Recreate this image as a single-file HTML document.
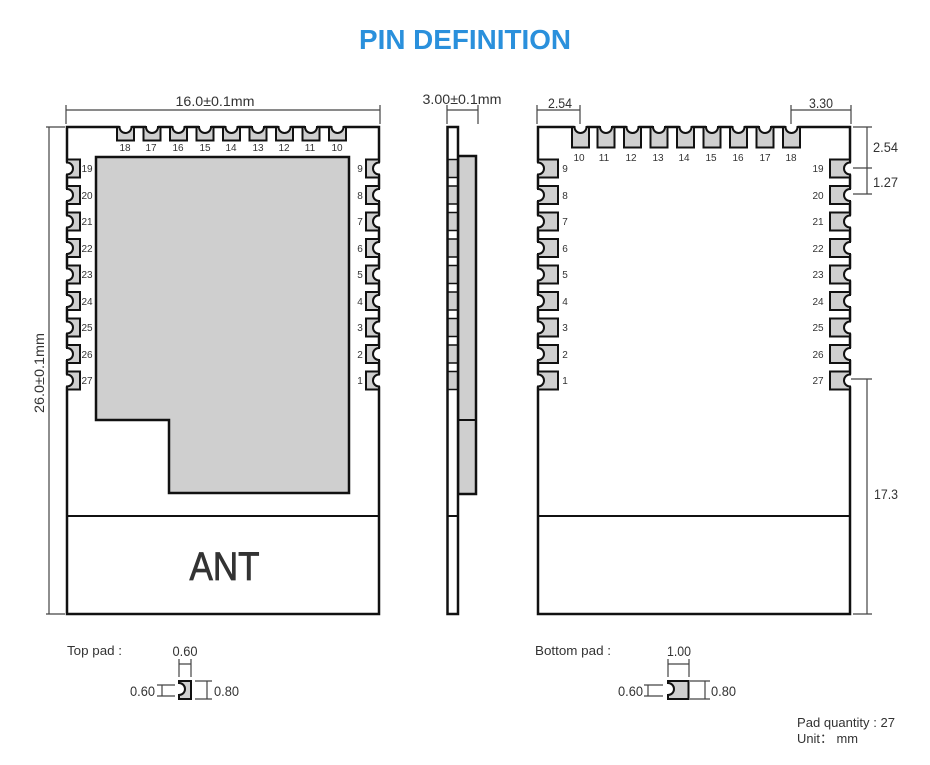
<!DOCTYPE html>
<html><head><meta charset="utf-8"><style>
html,body{margin:0;padding:0;background:#fff}
svg{display:block}
text{font-family:"Liberation Sans","Noto Sans CJK SC",sans-serif;fill:#333}
.d{font-size:14px}
.n{font-size:10px;text-anchor:middle}
.dim{stroke:#444;stroke-width:1.2;fill:none}
</style></head><body>
<svg width="930" height="765" viewBox="0 0 930 765" xmlns="http://www.w3.org/2000/svg">
<defs>
<g id="pt"><path d="M-6 0H6" stroke="#fff" stroke-width="4.500"/><path d="M-8.500 0V13.500H8.500V0H6A6 6 0 0 1-6 0Z" fill="#cfcfcf" stroke="#111" stroke-width="2"/></g>
<g id="pb"><path d="M-6 0H6" stroke="#fff" stroke-width="4.500"/><path d="M-8.500 0V20.500H8.500V0H6A6 6 0 0 1-6 0Z" fill="#cfcfcf" stroke="#111" stroke-width="2"/></g>
<g id="pl"><path d="M0 -6V6" stroke="#fff" stroke-width="4.500"/><path d="M0 -9H13V9H0V6A6 6 0 0 0 0-6Z" fill="#cfcfcf" stroke="#111" stroke-width="2"/></g>
<g id="pr"><path d="M0 -6V6" stroke="#fff" stroke-width="4.500"/><path d="M0 -9H-13V9H0V6A6 6 0 0 1 0-6Z" fill="#cfcfcf" stroke="#111" stroke-width="2"/></g>
<g id="pbl"><path d="M0 -6V6" stroke="#fff" stroke-width="4.500"/><path d="M0 -9H20V9H0V6A6 6 0 0 0 0-6Z" fill="#cfcfcf" stroke="#111" stroke-width="2"/></g>
<g id="pbr"><path d="M0 -6V6" stroke="#fff" stroke-width="4.500"/><path d="M0 -9H-20V9H0V6A6 6 0 0 1 0-6Z" fill="#cfcfcf" stroke="#111" stroke-width="2"/></g>
</defs>
<rect width="930" height="765" fill="#fff"/>

<text x="465" y="49" text-anchor="middle" font-size="28" font-weight="700" style="fill:#2a90dc" textLength="212" lengthAdjust="spacingAndGlyphs">PIN DEFINITION</text>

<!-- Left module -->
<rect x="67" y="127" width="312" height="487" fill="#fff" stroke="#111" stroke-width="2.500"/>
<line x1="67" y1="516" x2="379" y2="516" stroke="#111" stroke-width="2"/>
<path d="M96 157H349V493H169V420H96Z" fill="#cfcfcf" stroke="#111" stroke-width="2.500"/>
<text x="224.500" y="580" text-anchor="middle" font-size="40" textLength="70" lengthAdjust="spacingAndGlyphs" style="stroke:#333;stroke-width:.8">ANT</text>
<g>
<use href="#pt" x="125.500" y="127"/><use href="#pt" x="152" y="127"/><use href="#pt" x="178.500" y="127"/><use href="#pt" x="205" y="127"/><use href="#pt" x="231.500" y="127"/><use href="#pt" x="258" y="127"/><use href="#pt" x="284.500" y="127"/><use href="#pt" x="311" y="127"/><use href="#pt" x="337.500" y="127"/>
<use href="#pl" x="67" y="168.500"/><use href="#pl" x="67" y="195"/><use href="#pl" x="67" y="221.500"/><use href="#pl" x="67" y="248"/><use href="#pl" x="67" y="274.500"/><use href="#pl" x="67" y="301"/><use href="#pl" x="67" y="327.500"/><use href="#pl" x="67" y="354"/><use href="#pl" x="67" y="380.500"/>
<use href="#pr" x="379" y="168.500"/><use href="#pr" x="379" y="195"/><use href="#pr" x="379" y="221.500"/><use href="#pr" x="379" y="248"/><use href="#pr" x="379" y="274.500"/><use href="#pr" x="379" y="301"/><use href="#pr" x="379" y="327.500"/><use href="#pr" x="379" y="354"/><use href="#pr" x="379" y="380.500"/>
</g>
<g class="n">
<text class="n" x="125" y="151">18</text><text class="n" x="151" y="151">17</text><text class="n" x="178" y="151">16</text><text class="n" x="205" y="151">15</text><text class="n" x="231" y="151">14</text><text class="n" x="258" y="151">13</text><text class="n" x="284" y="151">12</text><text class="n" x="310" y="151">11</text><text class="n" x="337" y="151">10</text>
<text class="n" x="87" y="172">19</text><text class="n" x="87" y="199">20</text><text class="n" x="87" y="225">21</text><text class="n" x="87" y="252">22</text><text class="n" x="87" y="278">23</text><text class="n" x="87" y="305">24</text><text class="n" x="87" y="331">25</text><text class="n" x="87" y="358">26</text><text class="n" x="87" y="384">27</text>
<text class="n" x="360" y="172">9</text><text class="n" x="360" y="199">8</text><text class="n" x="360" y="225">7</text><text class="n" x="360" y="252">6</text><text class="n" x="360" y="278">5</text><text class="n" x="360" y="305">4</text><text class="n" x="360" y="331">3</text><text class="n" x="360" y="358">2</text><text class="n" x="360" y="384">1</text>
</g>
<path class="dim" d="M66 105V124M380 105V124M66 110H380M46 127H65M46 614H65M49 127V614"/>
<text class="d" x="215" y="106" text-anchor="middle" textLength="79" lengthAdjust="spacingAndGlyphs">16.0±0.1mm</text>
<text class="d" transform="translate(44 373) rotate(-90)" text-anchor="middle" textLength="80" lengthAdjust="spacingAndGlyphs">26.0±0.1mm</text>

<!-- Side view -->
<rect x="458" y="156" width="18" height="338" fill="#cfcfcf" stroke="#111" stroke-width="2.500"/>
<line x1="458" y1="420" x2="476" y2="420" stroke="#111" stroke-width="2"/>
<rect x="447.500" y="127" width="10.500" height="487" fill="#fff" stroke="#111" stroke-width="2.500"/>
<line x1="447" y1="516" x2="458" y2="516" stroke="#111" stroke-width="2"/>
<g fill="#cfcfcf" stroke="#111" stroke-width="1.500">
<rect x="448" y="159.500" width="9.500" height="18"/><rect x="448" y="186" width="9.500" height="18"/><rect x="448" y="212.500" width="9.500" height="18"/><rect x="448" y="239" width="9.500" height="18"/><rect x="448" y="265.500" width="9.500" height="18"/><rect x="448" y="292" width="9.500" height="18"/><rect x="448" y="318.500" width="9.500" height="18"/><rect x="448" y="345" width="9.500" height="18"/><rect x="448" y="371.500" width="9.500" height="18"/>
</g>
<path class="dim" d="M447 105V124M478 105V124M447 110H478"/>
<text class="d" x="462" y="104" text-anchor="middle" textLength="79" lengthAdjust="spacingAndGlyphs">3.00±0.1mm</text>

<!-- Right module -->
<rect x="538" y="127" width="312" height="487" fill="#fff" stroke="#111" stroke-width="2.500"/>
<line x1="538" y1="516" x2="850" y2="516" stroke="#111" stroke-width="2"/>
<g>
<use href="#pb" x="580.500" y="127"/><use href="#pb" x="606" y="127"/><use href="#pb" x="632.500" y="127"/><use href="#pb" x="659" y="127"/><use href="#pb" x="685.500" y="127"/><use href="#pb" x="712" y="127"/><use href="#pb" x="738.500" y="127"/><use href="#pb" x="765" y="127"/><use href="#pb" x="791.500" y="127"/>
<use href="#pbl" x="538" y="168.500"/><use href="#pbl" x="538" y="195"/><use href="#pbl" x="538" y="221.500"/><use href="#pbl" x="538" y="248"/><use href="#pbl" x="538" y="274.500"/><use href="#pbl" x="538" y="301"/><use href="#pbl" x="538" y="327.500"/><use href="#pbl" x="538" y="354"/><use href="#pbl" x="538" y="380.500"/>
<use href="#pbr" x="850" y="168.500"/><use href="#pbr" x="850" y="195"/><use href="#pbr" x="850" y="221.500"/><use href="#pbr" x="850" y="248"/><use href="#pbr" x="850" y="274.500"/><use href="#pbr" x="850" y="301"/><use href="#pbr" x="850" y="327.500"/><use href="#pbr" x="850" y="354"/><use href="#pbr" x="850" y="380.500"/>
</g>
<text class="n" x="579" y="161">10</text><text class="n" x="604" y="161">11</text><text class="n" x="631" y="161">12</text><text class="n" x="658" y="161">13</text><text class="n" x="684" y="161">14</text><text class="n" x="711" y="161">15</text><text class="n" x="738" y="161">16</text><text class="n" x="765" y="161">17</text><text class="n" x="791" y="161">18</text>
<text class="n" x="565" y="172">9</text><text class="n" x="565" y="199">8</text><text class="n" x="565" y="225">7</text><text class="n" x="565" y="252">6</text><text class="n" x="565" y="278">5</text><text class="n" x="565" y="305">4</text><text class="n" x="565" y="331">3</text><text class="n" x="565" y="358">2</text><text class="n" x="565" y="384">1</text>
<text class="n" x="818" y="172">19</text><text class="n" x="818" y="199">20</text><text class="n" x="818" y="225">21</text><text class="n" x="818" y="252">22</text><text class="n" x="818" y="278">23</text><text class="n" x="818" y="305">24</text><text class="n" x="818" y="331">25</text><text class="n" x="818" y="358">26</text><text class="n" x="818" y="384">27</text>
<path class="dim" d="M537 105V124M580 105V124M537 110H580M791 105V124M851 105V124M791 110H851M853 127H872M853 168H872M853 194H872M867 127V194M851 379H872M853 614H872M867 379V614"/>
<text class="d" x="560" y="108" text-anchor="middle" textLength="24" lengthAdjust="spacingAndGlyphs">2.54</text>
<text class="d" x="821" y="108" text-anchor="middle" textLength="24" lengthAdjust="spacingAndGlyphs">3.30</text>
<text class="d" x="873" y="152" textLength="25" lengthAdjust="spacingAndGlyphs">2.54</text>
<text class="d" x="873" y="187" textLength="25" lengthAdjust="spacingAndGlyphs">1.27</text>
<text class="d" x="874" y="499" textLength="24" lengthAdjust="spacingAndGlyphs">17.3</text>

<!-- Pad details -->
<text x="67" y="655" font-size="13" textLength="55" lengthAdjust="spacingAndGlyphs">Top pad :</text>
<path d="M179 681H191V699H179V695A6 6 0 0 0 179 683Z" fill="#cfcfcf" stroke="#111" stroke-width="2"/>
<path class="dim" d="M179 659V677M191 659V677M179 664H191M157 685H175M157 696H175M162 685V696M195 681H212M195 699H212M207 681V699"/>
<text class="d" x="185" y="656" text-anchor="middle" textLength="25" lengthAdjust="spacingAndGlyphs">0.60</text>
<text class="d" x="130" y="696" textLength="25" lengthAdjust="spacingAndGlyphs">0.60</text>
<text class="d" x="214" y="696" textLength="25" lengthAdjust="spacingAndGlyphs">0.80</text>

<text x="535" y="655" font-size="13" textLength="76" lengthAdjust="spacingAndGlyphs">Bottom pad :</text>
<path d="M668 681H688.500V699H668V695A6 6 0 0 0 668 683Z" fill="#cfcfcf" stroke="#111" stroke-width="2"/>
<path class="dim" d="M668 659V677M689 659V677M668 664H689M644 685H663M644 696H663M648 685V696M690 681H710M690 699H710M705 681V699"/>
<text class="d" x="679" y="656" text-anchor="middle" textLength="24" lengthAdjust="spacingAndGlyphs">1.00</text>
<text class="d" x="618" y="696" textLength="25" lengthAdjust="spacingAndGlyphs">0.60</text>
<text class="d" x="711" y="696" textLength="25" lengthAdjust="spacingAndGlyphs">0.80</text>

<text x="797" y="727" font-size="13" textLength="98" lengthAdjust="spacingAndGlyphs">Pad quantity : 27</text>
<text x="797" y="743" font-size="13" textLength="61" lengthAdjust="spacingAndGlyphs">Unit：&#160;mm</text>
</svg>
</body></html>
